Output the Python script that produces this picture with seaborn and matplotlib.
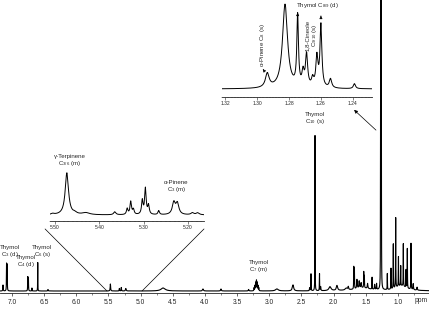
import numpy as np
import pandas as pd
import seaborn as sns
import matplotlib.pyplot as plt
from matplotlib.ticker import MultipleLocator, FormatStrFormatter
from matplotlib.patches import ConnectionPatch

# peak tables: position (ppm), height (arb.), half width (ppm)
main_ppm = [7.140, 7.085, 7.075, 6.755, 6.745, 6.690, 6.600, 6.440,
            5.470, 5.330, 5.300, 5.230, 4.650, 4.030, 3.750, 3.320,
            3.235, 3.222, 3.210, 3.198, 3.186, 3.174, 3.162,
            2.880, 2.630, 2.370, 2.350, 2.288, 2.218, 2.200, 2.055, 1.946,
            1.800, 1.770, 1.685, 1.675, 1.635, 1.600, 1.570, 1.530, 1.520,
            1.470, 1.400, 1.360, 1.330, 1.268, 1.262, 1.256,
            1.163, 1.106, 1.070, 1.033, 0.990, 0.955, 0.914, 0.872, 0.852,
            0.795, 0.760, 0.700, 1.550, 0.950]
main_height = [6, 27, 26, 14, 13, 3, 29, 1.5,
               7, 2.5, 3.5, 2.5, 3, 2, 2, 1.5,
               3, 5, 8, 10, 8, 5, 3,
               2, 6, 3, 17, 158, 17, 4, 4, 5,
               2, 3, 22, 20, 9, 7, 5, 16, 12,
               5, 12, 5, 6, 200, 285, 250,
               16, 21, 45, 70, 30, 20, 43, 18, 40,
               46, 6, 3, 3, 5]
main_width = [0.003, 0.002, 0.002, 0.002, 0.002, 0.002, 0.0015, 0.004,
              0.004, 0.003, 0.003, 0.006, 0.04, 0.008, 0.006, 0.005,
              0.003, 0.003, 0.003, 0.003, 0.003, 0.003, 0.003,
              0.025, 0.012, 0.004, 0.002, 0.0015, 0.002, 0.004, 0.02, 0.012,
              0.02, 0.006, 0.002, 0.002, 0.005, 0.005, 0.005, 0.002, 0.002,
              0.005, 0.002, 0.004, 0.003, 0.0015, 0.0015, 0.0015,
              0.002, 0.002, 0.002, 0.002, 0.002, 0.002, 0.002, 0.002, 0.002,
              0.002, 0.004, 0.005, 0.15, 0.1]

olef_ppm = [5.505, 5.473, 5.455, 5.430, 5.365, 5.337, 5.329, 5.323, 5.303,
            5.296, 5.289, 5.266, 5.232, 5.224, 5.190, 5.178]
olef_height = [1, 42, 1.5, 2, 3, 6, 13, 5, 14, 26, 9, 4, 12, 11, 2, 2]
olef_width = [0.004, 0.0045, 0.005, 0.01, 0.003, 0.002, 0.002, 0.002, 0.002,
              0.002, 0.002, 0.002, 0.004, 0.004, 0.004, 0.004]

methyl_ppm = [1.2936, 1.2825, 1.2746, 1.2712, 1.2690, 1.2652, 1.2625, 1.2600, 1.2540, 1.2390]
methyl_height = [14, 84, 70, 14, 32, 8, 30, 62, 9, 5]
methyl_width = [0.0014, 0.0019, 0.0006, 0.0008, 0.0008, 0.0008, 0.0008, 0.0007, 0.0009, 0.0008]

main_ticks = [7.0, 6.5, 6.0, 5.5, 5.0, 4.5, 4.0, 3.5, 3.0, 2.5, 2.0, 1.5, 1.0]
olef_ticks = [5.50, 5.40, 5.30, 5.20]
methyl_ticks = [1.32, 1.30, 1.28, 1.26, 1.24]


def spectrum(lo, hi, step, pos, hgt, wid):
    x = np.arange(lo, hi, step)
    y = np.zeros_like(x)
    for p, h, w in zip(pos, hgt, wid):
        y += h * w**2 / ((x - p)**2 + w**2)
    return pd.DataFrame({'ppm': x, 'intensity': y})


main_df = spectrum(0.515, 7.187, 0.0004, main_ppm, main_height, main_width)
olef_df = spectrum(5.164, 5.511, 0.0002, olef_ppm, olef_height, olef_width)
methyl_df = spectrum(1.228, 1.322, 0.0001, methyl_ppm, methyl_height, methyl_width)

sns.set_style('ticks')
plt.rcParams['font.family'] = ['Liberation Sans', 'DejaVu Sans']
plt.rcParams['mathtext.fontset'] = 'custom'
plt.rcParams['mathtext.rm'] = 'Liberation Sans'
plt.rcParams['mathtext.it'] = 'Liberation Sans:italic'
plt.rcParams['mathtext.default'] = 'regular'

fig = plt.figure(figsize=(4.29, 3.12), dpi=100)
W, H = 429, 312
ax = fig.add_axes([0, 19 / H, 1, 293 / H])
ax1 = fig.add_axes([50 / W, (H - 221) / H, 154 / W, 53 / H])
ax2 = fig.add_axes([222 / W, (H - 96.5) / H, 150 / W, 96.5 / H])

for a, df, lw in [(ax, main_df, 0.8), (ax1, olef_df, 0.7), (ax2, methyl_df, 0.7)]:
    sns.lineplot(data=df, x='ppm', y='intensity', ax=a, color='black',
                 linewidth=lw, estimator=None, sort=False)
    a.set_facecolor('none')
    for s in ['left', 'right', 'top']:
        a.spines[s].set_visible(False)
    a.spines['bottom'].set_linewidth(0.6)
    a.set_yticks([])
    a.set_xlabel('')
    a.set_ylabel('')

ax.set_xlim(7.187, 0.515)
ax.set_ylim(-2, 291)
ax.set_xticks(main_ticks)
ax.xaxis.set_major_formatter(FormatStrFormatter('%.1f'))
ax.xaxis.set_minor_locator(MultipleLocator(0.25))
ax.tick_params(axis='x', which='major', labelsize=4.8, length=2.5, width=0.5, pad=1.5)
ax.tick_params(axis='x', which='minor', length=1.5, width=0.4)
ax.text(0.981, -0.027, 'ppm', transform=ax.transAxes, fontsize=4.8,
        ha='center', va='center')

ax1.set_xlim(5.511, 5.164)
ax1.set_ylim(-6, 47)
ax1.set_xticks(olef_ticks)
ax1.xaxis.set_major_formatter(FormatStrFormatter('%.2f'))
ax1.xaxis.set_minor_locator(MultipleLocator(0.01))
ax1.tick_params(axis='x', which='major', labelsize=3.6, length=2, width=0.4, pad=1)
ax1.tick_params(axis='x', which='minor', length=1, width=0.3)

ax2.set_xlim(1.322, 1.228)
ax2.set_ylim(-7.5, 89)
ax2.set_xticks(methyl_ticks)
ax2.xaxis.set_major_formatter(FormatStrFormatter('%.2f'))
ax2.xaxis.set_minor_locator(MultipleLocator(0.002))
ax2.tick_params(axis='x', which='major', labelsize=3.6, length=2, width=0.4, pad=1)
ax2.tick_params(axis='x', which='minor', length=1, width=0.3)

lab = dict(fontsize=4.4, ha='center', va='center', linespacing=1.0)
ax.text(7.040, 39, 'Thymol\nC$_{3}$ (d)', **lab)
ax.text(6.782, 29, 'Thymol\nC$_{4}$ (d)', **lab)
ax.text(6.528, 39, 'Thymol\nC$_{6}$ (s)', **lab)
ax.text(3.159, 24, 'Thymol\nC$_{7}$ (m)', **lab)
ax.text(2.288, 172, 'Thymol\nC$_{10}$ (s)', **lab)

ax1.text(5.466, 54, 'γ-Terpinene\nC$_{3/6}$ (m)', **lab)
ax1.text(5.226, 28, 'α-Pinene\nC$_{3}$ (m)', **lab)

ax2.text(1.2625, 84, 'Thymol C$_{8/9}$ (d)', **lab)
ax2.text(1.2969, 44, 'α-Pinene C$_{8}$ (s)', rotation=90, **lab)
ax2.text(1.2656, 54, '1,8-Cineole\nC$_{9/10}$ (s)', rotation=90, **lab)

arr = dict(arrowstyle='-|>', lw=0.5, color='black', mutation_scale=4)
ax2.annotate('', xy=(1.2746, 79), xytext=(1.2746, 72), arrowprops=arr)
ax2.annotate('', xy=(1.2600, 76), xytext=(1.2600, 70), arrowprops=arr)
ax2.annotate('', xy=(1.2975, 22), xytext=(1.2950, 17), arrowprops=arr)

# arrow from the big methyl peak up to its zoom
ax.annotate('', xy=(1.712, 183), xytext=(1.308, 159),
            arrowprops=dict(arrowstyle='-|>', lw=0.5, color='black', mutation_scale=5))

# lines from the olefinic zoom down to the main trace
for fx, ppm in [(-0.032, 5.523), (1.0, 4.978)]:
    con = ConnectionPatch(xyA=(fx, -0.15), coordsA=ax1.transAxes,
                          xyB=(ppm, 0), coordsB=ax.transData,
                          color='black', lw=0.5)
    fig.add_artist(con)

fig.savefig('out.png', dpi=100)
